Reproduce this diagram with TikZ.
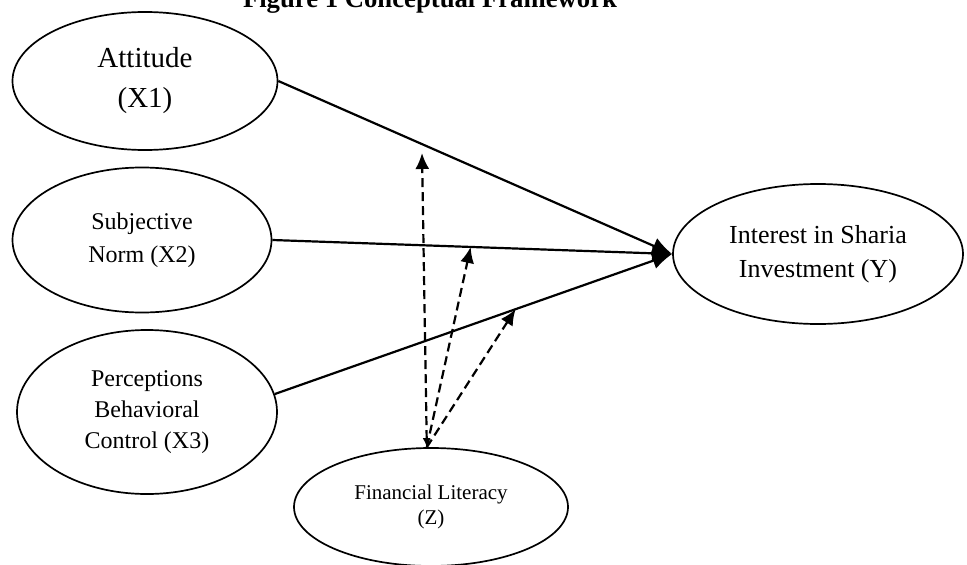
\documentclass[tikz,border=0pt]{standalone}
\usepackage{fontspec}
\setmainfont{Liberation Serif}
\usetikzlibrary{shapes.geometric,arrows.meta}
\tikzset{
  var/.style={draw, ellipse, line width=1.7pt, inner sep=0pt, align=center},
  path/.style={line width=2.2pt, -{Latex[length=20pt,width=17pt]}},
  moderate/.style={line width=2.2pt, dash pattern=on 9pt off 5pt, -{Latex[length=16pt,width=14pt]}}
}
\begin{document}
\begin{tikzpicture}[x=1pt,y=-1pt]
\useasboundingbox (0,0) rectangle (967,565);
\clip (0,0) rectangle (967,565);
\node[anchor=base, font=\bfseries\fontsize{26.7}{30}\selectfont] (title) at (430,7) {Figure 1 Conceptual Framework};
\node[var, minimum width=265pt, minimum height=138pt, font=\fontsize{29}{40}\selectfont] (A) at (145,81) {Attitude\\(X1)};
\node[var, minimum width=259pt, minimum height=145pt, font=\fontsize{24}{33}\selectfont] (S) at (142,240) {Subjective\\Norm (X2)};
\node[var, minimum width=260pt, minimum height=164pt, font=\fontsize{24}{31}\selectfont] (P) at (147,412) {Perceptions\\Behavioral\\Control (X3)};
\node[var, minimum width=290pt, minimum height=140pt, font=\fontsize{26}{34}\selectfont] (Y) at (818,254) {Interest in Sharia\\Investment (Y)};
\node[var, minimum width=274pt, minimum height=118pt, font=\fontsize{21}{25}\selectfont] (Z) at (431,507) {Financial Literacy\\(Z)};
\draw[path] (A.east) -- (Y.west);
\draw[path] (S.east) -- (Y.west) coordinate[pos=0.496] (m2);
\draw[path] (P.8) -- (Y.west) coordinate[pos=0.606] (m3);
\coordinate (m1) at (422,153);
\coordinate (z0) at (Z.94);
\draw[moderate, {Latex[length=9pt,width=8pt]}-{Latex[length=16pt,width=14pt]}] (z0) -- (m1);
\draw[moderate] (z0) -- (m2);
\draw[moderate] (z0) -- (m3);
\end{tikzpicture}
\end{document}
